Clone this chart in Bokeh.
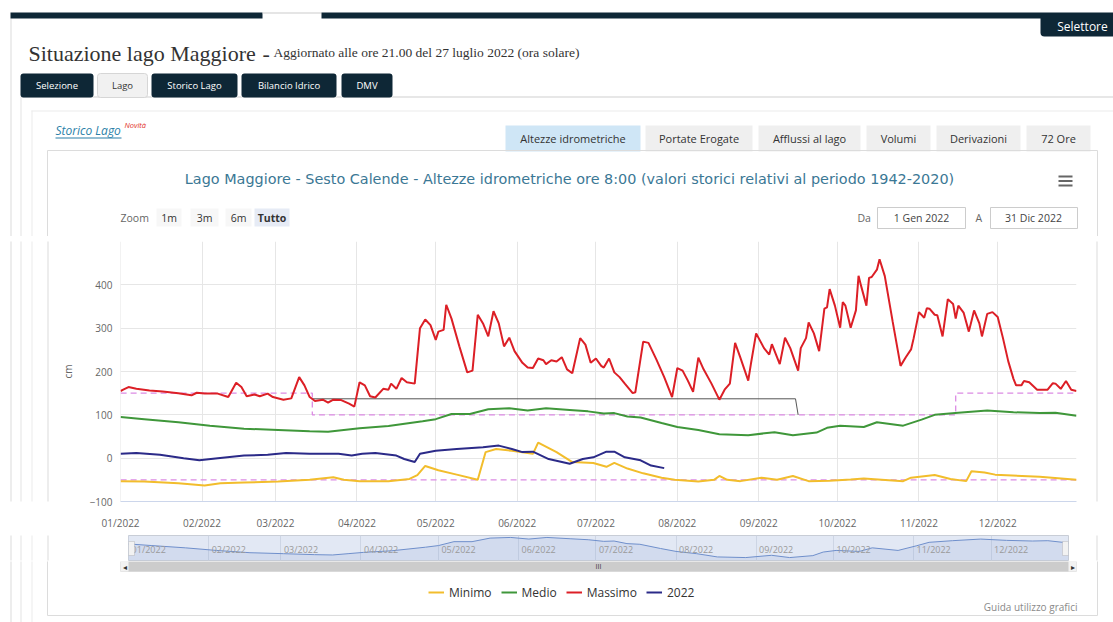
import numpy as np
from datetime import datetime
from bokeh.plotting import figure
from bokeh.models import (Range1d, FixedTicker, MonthsTicker, DatetimeTickFormatter,
                          Label, BoxAnnotation, Grid)
from bokeh.core.properties import value
from bokeh.layouts import column, row
from bokeh.embed import file_html
from bokeh.resources import INLINE

# ---------------- data (day of year 2022 -> cm) ----------------
massimo_day = [0,1,3,6,11,16,22,27,29,32,37,41,44,46,48,51,53,56,58,62,65,68,70,72,74,77,79,81,84,87,89,91,93,95,97,100,102,103,105,107,109,112,114,116,118,120,121,123,124,126,129,132,134,136,138,140,142,144,146,148,150,153,155,157,159,161,162,164,166,168,170,172,175,177,179,181,183,184,186,188,190,192,195,196,199,201,204,207,210,212,214,216,218,220,222,225,228,230,232,234,236,239,240,242,245,247,248,251,253,255,258,259,261,262,264,266,268,269,270,272,274,275,276,278,280,281,282,284,285,286,288,289,291,294,297,299,301,302,304,306,307,308,310,311,313,315,317,318,319,321,323,325,327,328,330,332,334,336,338,340,341,343,344,346,349,353,355,356,358,360,362,364]
massimo_cm = [155,158,164,160,156,154,150,145,151,149,149,141,174,164,143,147,143,149,141,135,138,187,168,141,132,135,128,135,134,126,119,175,168,143,140,160,158,172,160,185,175,172,300,320,307,273,292,296,354,322,258,198,202,331,311,281,339,311,258,278,247,220,209,208,230,226,217,226,223,233,205,196,277,262,220,230,213,209,230,198,187,172,150,152,269,266,228,187,141,208,202,179,153,232,205,172,135,158,172,266,232,179,217,288,254,239,263,217,278,254,202,254,277,313,288,247,345,348,390,352,301,360,352,301,341,421,397,352,416,418,435,459,420,315,213,233,251,277,337,324,346,345,331,330,281,367,356,322,352,336,292,341,311,281,333,337,326,277,224,183,168,168,178,175,158,158,173,172,160,178,158,155]

medio_day = [0,9,22,34,47,60,72,79,85,91,102,115,120,126,133,140,148,155,162,171,178,184,188,193,198,206,212,220,228,239,249,256,265,269,274,283,288,298,305,310,319,330,340,350,356,364]
medio_cm = [95,90,83,75,68,65,62,61,65,69,74,85,90,102,102,113,115,110,115,111,108,103,104,96,94,81,72,65,55,53,60,53,59,70,75,72,83,75,89,100,105,110,106,104,105,98]

minimo_day = [0,9,22,32,38,47,60,72,81,85,91,102,110,113,116,121,128,136,139,143,149,157,159,166,172,180,185,188,193,199,206,211,220,226,228,231,236,244,250,256,262,270,278,283,298,301,310,316,322,324,329,333,350,364]
minimo_cm = [-53,-54,-58,-63,-58,-56,-54,-50,-44,-50,-53,-53,-48,-39,-18,-28,-38,-50,14,21,17,10,36,14,-9,-11,-20,-11,-24,-35,-45,-50,-54,-50,-41,-50,-53,-45,-50,-41,-53,-52,-49,-47,-53,-45,-39,-48,-53,-30,-33,-38,-43,-50]

anno2022_day = [0,6,15,24,30,37,47,56,63,72,83,88,92,97,105,108,112,114,120,128,138,144,149,153,157,163,171,176,180,185,188,192,198,202,207]
anno2022_cm = [10,12,8,0,-5,0,6,8,12,10,10,6,10,12,6,-2,-9,10,17,21,25,29,21,14,15,-2,-13,-2,2,15,15,2,-5,-17,-23]

limite_sup_day = [0,73,73,318,318,364]
limite_sup_cm = [150,150,100,100,150,150]
limite_inf_day = [0,364]
limite_inf_cm = [-50,-50]
limite_estivo_day = [73,257,258]
limite_estivo_cm = [137,137,100]

y_ticks = [-100, 0, 100, 200, 300, 400, 500]
legend_names = ["Minimo", "Medio", "Massimo", "2022"]
series_colors = ["#f2bd2c", "#3f973a", "#dc1f26", "#2b2a88"]

YEAR0 = np.datetime64("2022-01-01")
def to_dates(days):
    return YEAR0 + np.array(days, dtype="int64").astype("timedelta64[D]")

x_start = datetime(2021, 12, 31, 23)
x_end = datetime(2022, 12, 31)
UI = "Open Sans"
DARK = "#0e2736"

# ---------------- decoration figures: data units == page pixels ----------------
def deco_fig(x0, x1, y0, y1):
    f = figure(width=int(x1 - x0), height=int(y1 - y0),
               x_range=Range1d(x0, x1), y_range=Range1d(-y1, -y0),
               x_axis_location=None, y_axis_location=None, min_border=0,
               toolbar_location=None, output_backend="svg", title=None)
    f.grid.visible = False
    f.outline_line_color = None
    f.background_fill_color = "white"
    f.border_fill_color = "white"
    return f

def rect(f, x0, y0, x1, y1, fill=None, line=None, lw=1, r=0):
    f.add_layout(BoxAnnotation(
        left=x0, right=x1, top=-y0, bottom=-y1,
        fill_color=fill if fill else "white", fill_alpha=1 if fill else 0,
        line_color=line if line else "white", line_alpha=1 if line else 0,
        line_width=lw, border_radius=r))

def txt(f, x, y, s, size=11, color="#333333", font=UI, align="left",
        baseline="middle", style="normal"):
    f.add_layout(Label(x=x, y=-y, text=s, text_font=font, text_font_size=f"{size}px",
                       text_color=color, text_align=align, text_baseline=baseline,
                       text_font_style=style))

def page_lines(f, y_top):
    rect(f, 10, max(18, y_top - 2), 11, 700, fill="#dcdcdc")
    rect(f, 20, max(97, y_top - 2), 21, 700, fill="#e4e4e4")
    rect(f, 31, max(110, y_top - 2), 32, 700, fill="#ececec")

# ---------------- header ----------------
hd = deco_fig(0, 1113, 0, 236)
page_lines(hd, 0)
rect(hd, 31, 110, 1120, 111, fill="#ececec")
rect(hd, 10, 12, 262, 18, fill=DARK)
rect(hd, 262, 12, 321, 13, fill="#cccccc")
rect(hd, 321, 12, 1120, 18, fill=DARK)
rect(hd, 1040, 14, 1125, 36, fill=DARK, r=4)
txt(hd, 1082, 26, "Selettore", size=12, color="white", align="center")
txt(hd, 28, 53, "Situazione lago Maggiore", size=22, font="Liberation Serif",
    color="#333333", baseline="alphabetic")
txt(hd, 262, 53, "-", size=22, font="Liberation Serif", color="#333333", baseline="alphabetic")
txt(hd, 273, 52, "Aggiornato alle ore 21.00 del 27 luglio 2022 (ora solare)", size=13.5,
    font="Liberation Serif", color="#333333", baseline="alphabetic")
rect(hd, 20, 96, 1120, 97, fill="#cfcfcf")
tabs = [("Selezione", 20, 93, True), ("Lago", 97, 147, False), ("Storico Lago", 151, 237, True),
        ("Bilancio Idrico", 241, 336, True), ("DMV", 341, 392, True)]
for name, a, b, dark in tabs:
    if dark:
        rect(hd, a, 73, b, 97, fill=DARK, r=3)
        txt(hd, (a + b) / 2, 85, name, size=9.5, color="white", align="center")
    else:
        rect(hd, a, 73, b, 97, fill="#f1f1f1", line="#d6d6d6", r=3)
        txt(hd, (a + b) / 2, 85, name, size=9.5, color="#333333", align="center")
txt(hd, 55, 130, "Storico Lago", size=12, color="#2b7fa8", style="italic")
rect(hd, 55, 137, 121, 138, fill="#2b7fa8")
txt(hd, 124, 124, "Novità", size=7.5, color="#e2332a", style="italic")
ctabs = [("Altezze idrometriche", 505, 640), ("Portate Erogate", 645, 752),
         ("Afflussi al lago", 758, 860), ("Volumi", 866, 930),
         ("Derivazioni", 936, 1020), ("72 Ore", 1026, 1090)]
for i, (name, a, b) in enumerate(ctabs):
    rect(hd, a, 125, b, 151, fill="#cfe6f6" if i == 0 else "#efefef")
    txt(hd, (a + b) / 2, 138, name, size=11, color="#333333", align="center")
rect(hd, 47, 150, 1097, 700, line="#dcdcdc")
txt(hd, 569, 178, "Lago Maggiore - Sesto Calende - Altezze idrometriche ore 8:00 "
    "(valori storici relativi al periodo 1942-2020)", size=14.4, font="DejaVu Sans",
    color="#3b7895", align="center")
for yy in (175, 179.5, 184):
    rect(hd, 1058, yy, 1072, yy + 2, fill="#666666")
txt(hd, 120, 217, "Zoom", size=10.5, color="#666666")
zb = [("1m", 156, 181, False), ("3m", 190, 218, False), ("6m", 225, 251, False),
      ("Tutto", 254, 289, True)]
for name, a, b, sel in zb:
    rect(hd, a, 208, b, 226, fill="#e6ebf5" if sel else "#f7f7f7")
    txt(hd, (a + b) / 2, 217, name, size=10.5, color="#333333", align="center",
        style="bold" if sel else "normal")
txt(hd, 857, 217, "Da", size=10.5, color="#666666")
rect(hd, 877, 207, 965, 228, fill="white", line="#cccccc")
txt(hd, 921, 217, "1 Gen 2022", size=10.5, color="#444444", align="center")
txt(hd, 975, 217, "A", size=10.5, color="#666666")
rect(hd, 990, 207, 1077, 228, fill="white", line="#cccccc")
txt(hd, 1033, 217, "31 Dic 2022", size=10.5, color="#444444", align="center")

# ---------------- main chart row ----------------
p = figure(width=1040, height=296, x_axis_type="datetime",
           x_range=Range1d(x_start, x_end), y_range=Range1d(-100, 500),
           toolbar_location=None, output_backend="svg", title=None,
           min_border_left=70, min_border_right=14, min_border_top=5, min_border_bottom=25)
p.outline_line_color = None
p.background_fill_color = "white"
p.border_fill_color = "white"

p.xaxis.ticker = MonthsTicker(months=list(range(1, 13)))
p.xaxis.formatter = DatetimeTickFormatter(months="%m/%Y", days="%m/%Y", years="%m/%Y")
p.xaxis.axis_line_color = "#ccd6eb"
p.xaxis.major_tick_line_color = None
p.xaxis.minor_tick_line_color = None
p.xaxis.major_label_standoff = 8
p.xaxis.major_label_text_font = UI
p.xaxis.major_label_text_font_size = "10px"
p.xaxis.major_label_text_color = "#666666"

p.yaxis.ticker = FixedTicker(ticks=y_ticks)
p.yaxis.major_label_overrides = {500: ""}
p.yaxis.axis_line_color = None
p.yaxis.major_tick_line_color = None
p.yaxis.minor_tick_line_color = None
p.yaxis.major_tick_out = 0
p.yaxis.minor_tick_out = 0
p.yaxis.major_label_standoff = 8
p.yaxis.major_label_text_font = UI
p.yaxis.major_label_text_font_size = "10px"
p.yaxis.major_label_text_color = "#666666"
p.yaxis.axis_label = "cm"
p.yaxis.axis_label_text_font = UI
p.yaxis.axis_label_text_font_style = "normal"
p.yaxis.axis_label_text_font_size = "10px"
p.yaxis.axis_label_text_color = "#666666"
p.yaxis.axis_label_standoff = 12
p.xgrid.grid_line_color = "#e6e6e6"
p.ygrid.grid_line_color = "#e6e6e6"

p.line(to_dates(limite_sup_day), limite_sup_cm, color="#dc8be4", line_width=1.3, line_dash="6 4")
p.line(to_dates(limite_inf_day), limite_inf_cm, color="#dc8be4", line_width=1.3, line_dash="6 4")
p.line(to_dates(limite_estivo_day), limite_estivo_cm, color="#555555", line_width=1)
p.line(to_dates(minimo_day), minimo_cm, color=series_colors[0], line_width=2)
p.line(to_dates(medio_day), medio_cm, color=series_colors[1], line_width=2)
p.line(to_dates(massimo_day), massimo_cm, color=series_colors[2], line_width=2)
p.line(to_dates(anno2022_day), anno2022_cm, color=series_colors[3], line_width=2)

cl = deco_fig(0, 50, 236, 532)
page_lines(cl, 236)
rect(cl, 47, 230, 48, 540, fill="#dcdcdc")
cr = deco_fig(1090, 1113, 236, 532)
rect(cr, 1096, 230, 1097, 540, fill="#dcdcdc")

# ---------------- navigator row ----------------
nav = figure(width=1040, height=29, x_axis_type="datetime",
             x_range=Range1d(x_start, x_end), y_range=Range1d(44, 121),
             x_axis_location=None, y_axis_location=None,
             toolbar_location=None, output_backend="svg", title=None,
             min_border_left=78, min_border_right=22, min_border_top=3, min_border_bottom=1)
nav.grid.visible = False
nav.background_fill_color = "#e2e8f4"
nav.border_fill_color = "white"
nav.outline_line_color = "#c8cdd6"
nav.add_layout(Grid(dimension=0, ticker=MonthsTicker(months=list(range(1, 13))),
                    grid_line_color="#cdd5e4"))
nav.varea(x=to_dates(medio_day), y1=44, y2=medio_cm, fill_color="#6685c2", fill_alpha=0.12)
nav.line(to_dates(medio_day), medio_cm, color="#6f8fcb", line_width=1)
month_starts = np.arange("2022-01", "2023-01", dtype="datetime64[M]").astype("datetime64[D]")
month_labels = [f"{m:02d}/2022" for m in range(1, 13)]
nav.text(x=month_starts, y=[78] * 12, text=month_labels, x_offset=3, text_baseline="middle",
         text_font=value(UI), text_font_size="9px", text_color="#9a9a9a")
for hx in (78, 1012):
    nav.add_layout(BoxAnnotation(left=hx, right=hx + 6, top=9, bottom=23,
                                 left_units="canvas", right_units="canvas",
                                 top_units="canvas", bottom_units="canvas",
                                 fill_color="#f2f2f2", fill_alpha=1, line_color="#999999"))

nl = deco_fig(0, 50, 532, 561)
page_lines(nl, 532)
rect(nl, 47, 525, 48, 570, fill="#dcdcdc")
nr = deco_fig(1090, 1113, 532, 561)
rect(nr, 1096, 525, 1097, 570, fill="#dcdcdc")

# ---------------- bottom: scrollbar, legend, help link ----------------
bt = deco_fig(0, 1113, 561, 622)
page_lines(bt, 561)
rect(bt, 47, 500, 1097, 615, line="#dcdcdc")
rect(bt, 120, 561, 1076, 571, fill="#f2f2f2", line="#e6e6e6")
rect(bt, 128, 561, 1068, 571, fill="#cccccc")
txt(bt, 124, 566, "◂", size=8, color="#333333", align="center")
txt(bt, 1072, 566, "▸", size=8, color="#333333", align="center")
txt(bt, 598, 566, "III", size=7, color="#333333", align="center")
txt(bt, 1077, 606, "Guida utilizzo grafici", size=10, color="#8a8a8a", align="right")
for name, col in zip(legend_names, series_colors):
    bt.line(x=[0, 1], y=[0, 0], color=col, line_width=2, legend_label=name)
lg = bt.legend[0]
lg.orientation = "horizontal"
lg.location = (428, 20)
lg.padding = 0
lg.margin = 0
lg.spacing = 9
lg.glyph_width = 16
lg.label_standoff = 5
lg.label_text_font = UI
lg.label_text_font_size = "12px"
lg.label_text_color = "#333333"
lg.border_line_color = None
lg.background_fill_alpha = 0

layout = column(hd, row(cl, p, cr, spacing=0), row(nl, nav, nr, spacing=0), bt, spacing=0)
open("out.html", "w").write(file_html(layout, INLINE))
